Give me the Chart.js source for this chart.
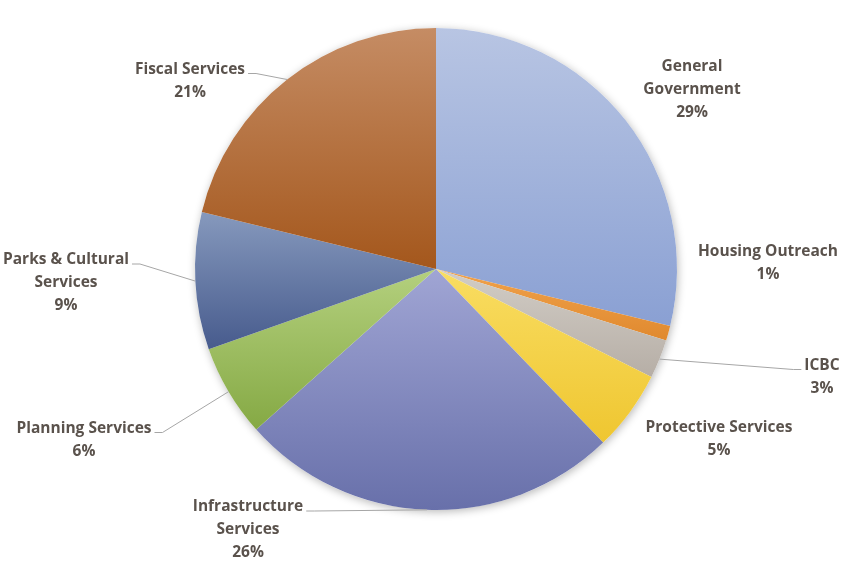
<!DOCTYPE html>
<html>
<head>
<meta charset="utf-8">
<script src="https://cdn.jsdelivr.net/npm/chart.js@4/dist/chart.umd.min.js"></script>
<style>
  html, body { margin: 0; padding: 0; background: #ffffff; }
  #wrap { width: 850px; height: 574px; }
</style>
</head>
<body>
<div id="wrap"><canvas id="c" width="850" height="574"></canvas></div>
<script>
// ---- data ----
const categories = [
  ['General', 'Government'],
  ['Housing Outreach'],
  ['ICBC'],
  ['Protective Services'],
  ['Infrastructure', 'Services'],
  ['Planning Services'],
  ['Parks & Cultural', 'Services'],
  ['Fiscal Services']
];
const shares = [28.8, 1.0, 2.6, 5.4, 25.6, 6.2, 9.2, 21.2];

// ---- styles ----
const lightColors = ['#b8c5e3', '#f0a24c', '#d2cdc6', '#f9dd62', '#a0a5d4', '#b4d07e', '#8699bd', '#c58c64'];
const darkColors  = ['#8aa0d3', '#e0892e', '#b6aea6', '#efc630', '#6870aa', '#85a944', '#475b8d', '#a4571c'];
// label placement: text centre relative to pie centre (px), and whether a leader line is drawn
const labelPlace = [
  { dx: 256, dy: -179, leader: false },
  { dx: 332, dy: -6, leader: false },
  { dx: 386, dy: 108, leader: true },
  { dx: 283, dy: 170, leader: false },
  { dx: -188, dy: 261, leader: true },
  { dx: -352, dy: 171, leader: true },
  { dx: -370, dy: 14, leader: true },
  { dx: -246, dy: -188, leader: true }
];
const textColor = '#5a524c';
const labelFont = 'bold 15.5px "Open Sans", "Noto Sans", sans-serif';
const lineH = 23;

function sliceGradient(context) {
  const chart = context.chart;
  const i = context.dataIndex;
  const area = chart.chartArea;
  if (!area) return lightColors[i];
  const cx = (area.left + area.right) / 2;
  const cy = (area.top + area.bottom) / 2;
  const r = Math.min(area.right - area.left, area.bottom - area.top) / 2;
  const data = context.dataset.data;
  const total = data.reduce((a, b) => a + b, 0);
  let start = 0;
  for (let k = 0; k < i; k++) start += data[k] / total * 2 * Math.PI;
  const end = start + data[i] / total * 2 * Math.PI;
  let ys = [cy, cy - r * Math.cos(start), cy - r * Math.cos(end)];
  if (start <= 0 || end >= 2 * Math.PI) ys.push(cy - r);
  if (start <= Math.PI && end >= Math.PI) ys.push(cy + r);
  const y0 = Math.min(...ys), y1 = Math.max(...ys);
  const g = chart.ctx.createLinearGradient(0, y0, 0, y1);
  g.addColorStop(0, lightColors[i]);
  g.addColorStop(1, darkColors[i]);
  return g;
}

const shadowPlugin = {
  id: 'pieShadow',
  beforeDatasetsDraw(chart) {
    const arc = chart.getDatasetMeta(0).data[0];
    if (!arc) return;
    const ctx = chart.ctx;
    ctx.save();
    ctx.shadowColor = 'rgba(0,0,0,0.28)';
    ctx.shadowBlur = 9;
    ctx.shadowOffsetX = 1;
    ctx.shadowOffsetY = 2;
    ctx.fillStyle = '#ffffff';
    ctx.beginPath();
    ctx.arc(arc.x, arc.y, arc.outerRadius, 0, Math.PI * 2);
    ctx.fill();
    ctx.restore();
  }
};

const labelPlugin = {
  id: 'outsideLabels',
  afterDatasetsDraw(chart) {
    const ctx = chart.ctx;
    const meta = chart.getDatasetMeta(0);
    const data = chart.data.datasets[0].data;
    const total = data.reduce((a, b) => a + b, 0);
    ctx.save();
    ctx.font = labelFont;
    ctx.textAlign = 'center';
    ctx.textBaseline = 'middle';
    meta.data.forEach((arc, i) => {
      const lines = chart.data.labels[i].slice();
      lines.push(Math.round(data[i] / total * 100) + '%');
      const p = labelPlace[i];
      const tx = arc.x + p.dx;
      const ty = arc.y + p.dy;
      const topY = ty - (lines.length - 1) * lineH / 2;
      if (p.leader) {
        const mid = (arc.startAngle + arc.endAngle) / 2;
        const ax = arc.x + Math.cos(mid) * arc.outerRadius;
        const ay = arc.y + Math.sin(mid) * arc.outerRadius;
        const w = ctx.measureText(lines[0]).width;
        const right = p.dx < 0;
        const ex = right ? tx + w / 2 + 3 : tx - w / 2 - 3;
        const ey = topY + 4;
        const kx = right ? ex + 8 : ex - 8;
        ctx.strokeStyle = '#a6a6a6';
        ctx.lineWidth = 1;
        ctx.beginPath();
        ctx.moveTo(ax, ay);
        ctx.lineTo(kx, ey);
        ctx.lineTo(ex, ey);
        ctx.stroke();
      }
      ctx.fillStyle = textColor;
      lines.forEach((t, j) => ctx.fillText(t, tx, topY + j * lineH));
    });
    ctx.restore();
  }
};

new Chart(document.getElementById('c'), {
  type: 'pie',
  data: {
    labels: categories,
    datasets: [{
      data: shares,
      backgroundColor: sliceGradient,
      borderWidth: 0
    }]
  },
  options: {
    responsive: false,
    animation: false,
    layout: { padding: { left: 195, right: 173, top: 28, bottom: 64 } },
    plugins: {
      legend: { display: false },
      tooltip: { enabled: false }
    }
  },
  plugins: [shadowPlugin, labelPlugin]
});
</script>
</body>
</html>
